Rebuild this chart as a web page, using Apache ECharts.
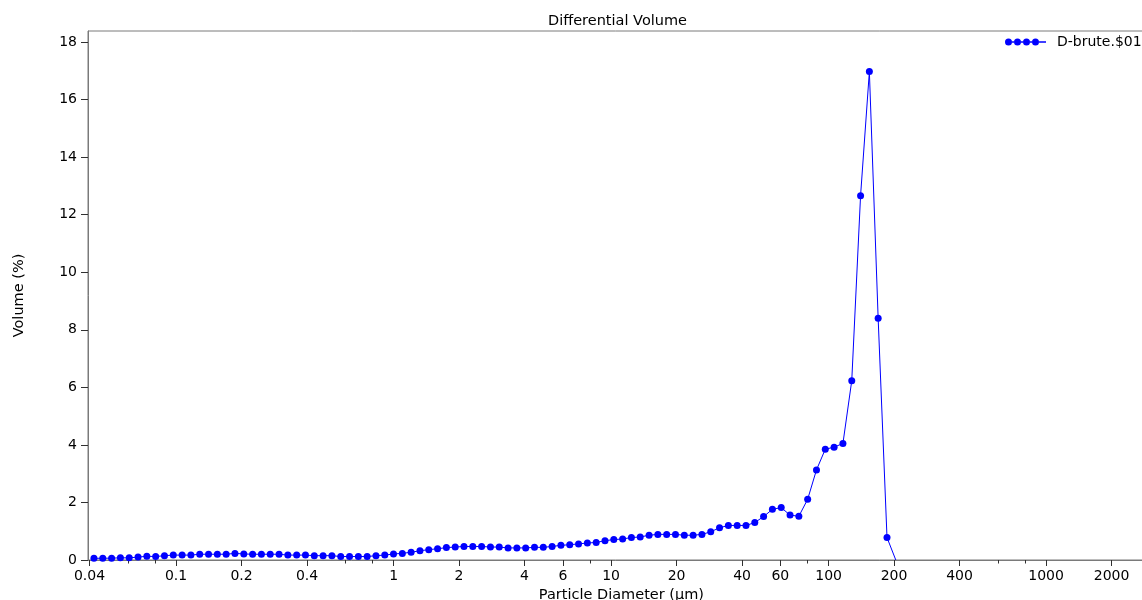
<!DOCTYPE html>
<html>
<head>
<meta charset="utf-8">
<script src="https://cdn.jsdelivr.net/npm/echarts@6/dist/echarts.min.js"></script>
<style>
  html, body { margin: 0; padding: 0; background: #ffffff; overflow: hidden; }
  #chart { width: 1142px; height: 600px; }
</style>
</head>
<body>
<div id="chart"></div>
<script>
// Particle diameters (µm) of the plotted channel points
const diameters = [
  0.04192, 0.04602, 0.05052, 0.05546, 0.06088, 0.06684, 0.07337, 0.08055, 0.08842, 0.09707,
  0.1066, 0.1170, 0.1284, 0.1410, 0.1548, 0.1699, 0.1865, 0.2048, 0.2248, 0.2468,
  0.2709, 0.2974, 0.3265, 0.3584, 0.3934, 0.4319, 0.4741, 0.5205, 0.5714, 0.6273,
  0.6886, 0.7560, 0.8299, 0.9110, 0.9991, 1.097, 1.204, 1.322, 1.451, 1.593,
  1.749, 1.920, 2.107, 2.313, 2.539, 2.788, 3.060, 3.360, 3.688, 4.049,
  4.445, 4.879, 5.356, 5.880, 6.455, 7.086, 7.779, 8.540, 9.375, 10.29,
  11.30, 12.40, 13.61, 14.95, 16.41, 18.01, 19.77, 21.71, 23.83, 26.16,
  28.72, 31.52, 34.61, 37.99, 41.71, 45.78, 50.26, 55.17, 60.57, 66.49,
  72.99, 80.13, 87.97, 96.57, 106.0, 116.4, 127.8, 140.3, 154.0, 169.0,
  185.6, 203.7
];
// Differential volume (%)
const volumes = [
  0.06, 0.06, 0.065, 0.075, 0.075, 0.10, 0.13, 0.12, 0.15, 0.17,
  0.17, 0.17, 0.20, 0.20, 0.20, 0.20, 0.23, 0.21, 0.20, 0.20,
  0.20, 0.20, 0.17, 0.17, 0.17, 0.15, 0.15, 0.15, 0.12, 0.12,
  0.12, 0.12, 0.15, 0.17, 0.21, 0.23, 0.27, 0.32, 0.36, 0.39,
  0.43, 0.45, 0.47, 0.47, 0.47, 0.45, 0.45, 0.42, 0.42, 0.42,
  0.44, 0.44, 0.47, 0.51, 0.53, 0.56, 0.59, 0.61, 0.67, 0.71,
  0.73, 0.78, 0.80, 0.86, 0.89, 0.89, 0.89, 0.86, 0.86, 0.89,
  0.98, 1.12, 1.20, 1.20, 1.20, 1.30, 1.51, 1.76, 1.82, 1.56,
  1.52, 2.11, 3.13, 3.85, 3.92, 4.05, 6.23, 12.66, 16.97, 8.40,
  0.78, 0
];
const xTickLabels = [0.04, 0.1, 0.2, 0.4, 1, 2, 4, 6, 10, 20, 40, 60, 100, 200, 400, 1000, 2000];
const xMinorTicks = [0.06, 0.08, 0.6, 0.8, 8, 80, 600, 800];
const yTickLabels = [0, 2, 4, 6, 8, 10, 12, 14, 16, 18];
const seriesName = 'D-brute.$01';
const titleText = 'Differential Volume';
const xAxisTitle = 'Particle Diameter (\u00b5m)';
const yAxisTitle = 'Volume (%)';

const FONT = 'DejaVu Sans';
const AXIS_GRAY = '#7a7a7a';
const TICK_DARK = '#303030';
const BLUE = '#0000ff';

const lg = v => Math.log10(v);
const xMin = -1.405;
const xMax = 3.5;

const seriesData = diameters.map((d, i) => {
  const item = { value: [lg(d), volumes[i]] };
  if (volumes[i] === 0) item.symbol = 'none';
  return item;
});

const circ = cx => 'M' + cx + ',3.75 a3.5,3.5 0 1,1 7,0 a3.5,3.5 0 1,1 -7,0 Z ';
const legendIcon = 'path://' +
  circ(0) + circ(9) + circ(18) + circ(27) +
  'M7,3 H9 V4.5 H7 Z M16,3 H18 V4.5 H16 Z M25,3 H27 V4.5 H25 Z M34,3 H41 V4.5 H34 Z';

const chart = echarts.init(document.getElementById('chart'), null, { renderer: 'canvas', width: 1142, height: 600 });
chart.setOption({
  animation: false,
  backgroundColor: '#ffffff',
  textStyle: { fontFamily: FONT },
  title: {
    text: titleText,
    left: 548,
    top: 14,
    padding: 0,
    textStyle: { fontFamily: FONT, fontSize: 14.5, fontWeight: 'normal', color: '#000' }
  },
  legend: {
    data: [{ name: seriesName, icon: legendIcon }],
    left: 1005,
    top: 35,
    padding: 0,
    itemWidth: 41,
    itemHeight: 7.5,
    textStyle: { fontFamily: FONT, fontSize: 14, color: '#000', padding: [0, 0, 0, 6] },
    itemStyle: { color: BLUE }
  },
  grid: {
    left: 88,
    top: 31,
    bottom: 40,
    width: (xMax - xMin) * 217.5,
    show: true,
    borderColor: AXIS_GRAY,
    borderWidth: 1,
    containLabel: false,
    outerBoundsMode: 'none'
  },
  xAxis: [
    {
      type: 'value',
      min: xMin,
      max: xMax,
      name: xAxisTitle,
      nameLocation: 'middle',
      nameGap: 26,
      nameTextStyle: { fontFamily: FONT, fontSize: 14.5, color: '#000' },
      axisLine: { show: true, onZero: false, lineStyle: { color: AXIS_GRAY, width: 1 } },
      axisTick: {
        show: true, inside: false, length: 6,
        customValues: xTickLabels.map(lg),
        lineStyle: { color: TICK_DARK, width: 1 }
      },
      axisLabel: {
        show: true,
        margin: 9,
        customValues: xTickLabels.map(lg),
        fontFamily: FONT, fontSize: 14, color: '#000',
        formatter: v => String(Number(Math.pow(10, v).toPrecision(3)))
      },
      splitLine: { show: false }
    },
    {
      type: 'value',
      min: xMin,
      max: xMax,
      position: 'bottom',
      axisLine: { show: false, onZero: false },
      axisTick: {
        show: true, inside: false, length: 3.5,
        customValues: xMinorTicks.map(lg),
        lineStyle: { color: TICK_DARK, width: 1 }
      },
      axisLabel: { show: false },
      splitLine: { show: false }
    }
  ],
  yAxis: {
    type: 'value',
    min: 0,
    max: 529 / 28.78,
    name: yAxisTitle,
    nameLocation: 'middle',
    nameGap: 61,
    nameRotate: 90,
    nameTextStyle: { fontFamily: FONT, fontSize: 14.5, color: '#000' },
    axisLine: { show: true, onZero: false, lineStyle: { color: AXIS_GRAY, width: 1 } },
    axisTick: {
      show: true, inside: false, length: 7,
      customValues: yTickLabels,
      lineStyle: { color: TICK_DARK, width: 1 }
    },
    axisLabel: {
      show: true,
      margin: 11,
      customValues: yTickLabels,
      fontFamily: FONT, fontSize: 14, color: '#000'
    },
    splitLine: { show: false }
  },
  series: [
    {
      name: seriesName,
      type: 'line',
      xAxisIndex: 0,
      yAxisIndex: 0,
      data: seriesData,
      symbol: 'circle',
      symbolSize: 7,
      showSymbol: true,
      showAllSymbol: true,
      clip: false,
      lineStyle: { color: BLUE, width: 1 },
      itemStyle: { color: BLUE, borderWidth: 0 },
      emphasis: { disabled: true }
    }
  ]
});
</script>
</body>
</html>
